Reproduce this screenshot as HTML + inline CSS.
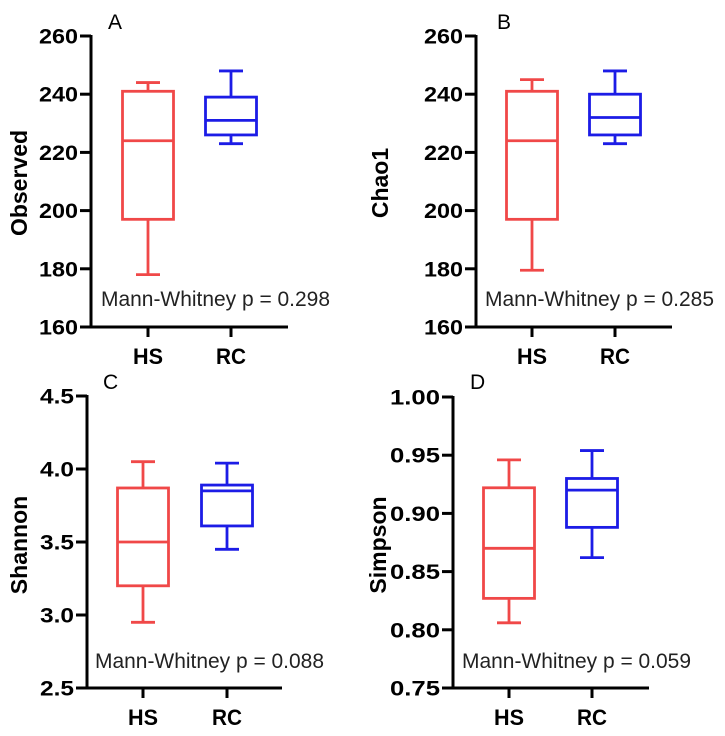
<!DOCTYPE html>
<html><head><meta charset="utf-8"><style>
html,body{margin:0;padding:0;background:#fff;}
svg{display:block;font-family:"Liberation Sans",Arial,sans-serif;}
</style></head><body>
<svg id="fig" width="725" height="736" viewBox="0 0 725 736"></svg>
<script>
const groups = ["HS", "RC"];
// [whiskerLow, q1, median, q3, whiskerHigh]
const observedHS = [178, 197, 224, 241, 244];
const observedRC = [223, 226, 231, 239, 248];
const chao1HS = [179.5, 197, 224, 241, 245];
const chao1RC = [223, 226, 232, 240, 248];
const shannonHS = [2.95, 3.2, 3.5, 3.87, 4.05];
const shannonRC = [3.45, 3.61, 3.85, 3.89, 4.04];
const simpsonHS = [0.806, 0.827, 0.870, 0.922, 0.946];
const simpsonRC = [0.862, 0.888, 0.920, 0.930, 0.954];
const ticksAB = ["160", "180", "200", "220", "240", "260"];
const ticksC = ["2.5", "3.0", "3.5", "4.0", "4.5"];
const ticksD = ["0.75", "0.80", "0.85", "0.90", "0.95", "1.00"];
const pvalues = ["0.298", "0.285", "0.088", "0.059"];

const NS = "http://www.w3.org/2000/svg";
const svg = document.getElementById("fig");
const colors = ["#f04848", "#1c1ce6"];
function mk(tag, attrs, parent) {
  const e = document.createElementNS(NS, tag);
  for (const k in attrs) e.setAttribute(k, attrs[k]);
  (parent || svg).appendChild(e);
  return e;
}
function panel(cfg) {
  const g = mk("g", {});
  
  
  const ticks = cfg.ticks.map(Number);
  const ymin = ticks[0], ymax = ticks[ticks.length - 1];
  const y = v => cfg.yBot - (v - ymin) / (ymax - ymin) * (cfg.yBot - cfg.yTop);
  const xs = [cfg.xHS, cfg.xRC];
  const ya = mk("line", {x1: cfg.ax, y1: cfg.yTop - 1, x2: cfg.ax, y2: cfg.yBot + 1.5, stroke: "#000", "stroke-width": 3}, g);
  
  
  const xa = mk("line", {x1: cfg.ax - 1.5, y1: cfg.yBot, x2: cfg.axEnd, y2: cfg.yBot, stroke: "#000", "stroke-width": 3}, g);
  
  
  cfg.ticks.forEach((t, i) => {
    const yy = y(Number(t));
    mk("line", {x1: cfg.ax - 11, y1: yy, x2: cfg.ax, y2: yy, stroke: "#000", "stroke-width": 3}, g);
    const tx = mk("text", {x: cfg.ax - 13, y: yy + 7.5, "text-anchor": "end", "font-size": 21, "font-weight": "bold", textLength: cfg.tickW, lengthAdjust: "spacingAndGlyphs"}, g);
    tx.textContent = t;
    
    
  });
  groups.forEach((gr, i) => {
    const x = xs[i];
    mk("line", {x1: x, y1: cfg.yBot, x2: x, y2: cfg.yBot + 10, stroke: "#000", "stroke-width": 3}, g);
    const tl = mk("text", {x: x, y: cfg.yBot + 37, "text-anchor": "middle", "font-size": 22, "font-weight": "bold", textLength: 30, lengthAdjust: "spacingAndGlyphs"}, g);
    tl.textContent = gr;
    
    
    const d = cfg.data[i];
    const bw = 51, cw = 24, c = colors[i];
    const bg = mk("g", {stroke: c, "stroke-width": 2.8, fill: "none"}, g);
    
    
    mk("line", {x1: x, y1: y(d[0]), x2: x, y2: y(d[1])}, bg);
    mk("line", {x1: x, y1: y(d[3]), x2: x, y2: y(d[4])}, bg);
    mk("line", {x1: x - cw / 2, y1: y(d[0]), x2: x + cw / 2, y2: y(d[0])}, bg);
    mk("line", {x1: x - cw / 2, y1: y(d[4]), x2: x + cw / 2, y2: y(d[4])}, bg);
    mk("rect", {x: x - bw / 2, y: y(d[3]), width: bw, height: y(d[1]) - y(d[3])}, bg);
    mk("line", {x1: x - bw / 2, y1: y(d[2]), x2: x + bw / 2, y2: y(d[2])}, bg);
  });
  const yl = mk("text", {x: 0, y: 0, transform: "translate(" + (cfg.ylx) + "," + cfg.yly + ") rotate(-90)", "text-anchor": "middle", "font-size": 23, "font-weight": "bold"}, g);
  yl.textContent = cfg.ylabel;
  
  
  const lt = mk("text", {x: cfg.lx, y: cfg.ly, "font-size": 21}, g);
  lt.textContent = cfg.letter;
  
  
  const an = mk("text", {x: cfg.anx, y: cfg.any, "font-size": 21, textLength: 229, lengthAdjust: "spacingAndGlyphs", fill: "#222"}, g);
  an.textContent = "Mann-Whitney p = " + cfg.p;
  
  
}
panel({letter: "A", ylabel: "Observed", ticks: ticksAB, data: [observedHS, observedRC], ax: 91, axEnd: 288, yTop: 36, yBot: 327, xHS: 148, xRC: 231, tickW: 39, ylx: 27, yly: 183, lx: 108, ly: 29, anx: 101, any: 306, p: pvalues[0]});
panel({letter: "B", ylabel: "Chao1", ticks: ticksAB, data: [chao1HS, chao1RC], ax: 476, axEnd: 672, yTop: 36, yBot: 327, xHS: 532, xRC: 615, tickW: 39, ylx: 388, yly: 183, lx: 497, ly: 29, anx: 485, any: 306, p: pvalues[1]});
panel({letter: "C", ylabel: "Shannon", ticks: ticksC, data: [shannonHS, shannonRC], ax: 87, axEnd: 282, yTop: 396, yBot: 688, xHS: 143, xRC: 227, tickW: 34, ylx: 27, yly: 545, lx: 103, ly: 389, anx: 95, any: 668, p: pvalues[2]});
panel({letter: "D", ylabel: "Simpson", ticks: ticksD, data: [simpsonHS, simpsonRC], ax: 453, axEnd: 649, yTop: 397, yBot: 688, xHS: 509, xRC: 592, tickW: 50, ylx: 386, yly: 545, lx: 470, ly: 389, anx: 462, any: 668, p: pvalues[3]});
</script>
</body></html>
